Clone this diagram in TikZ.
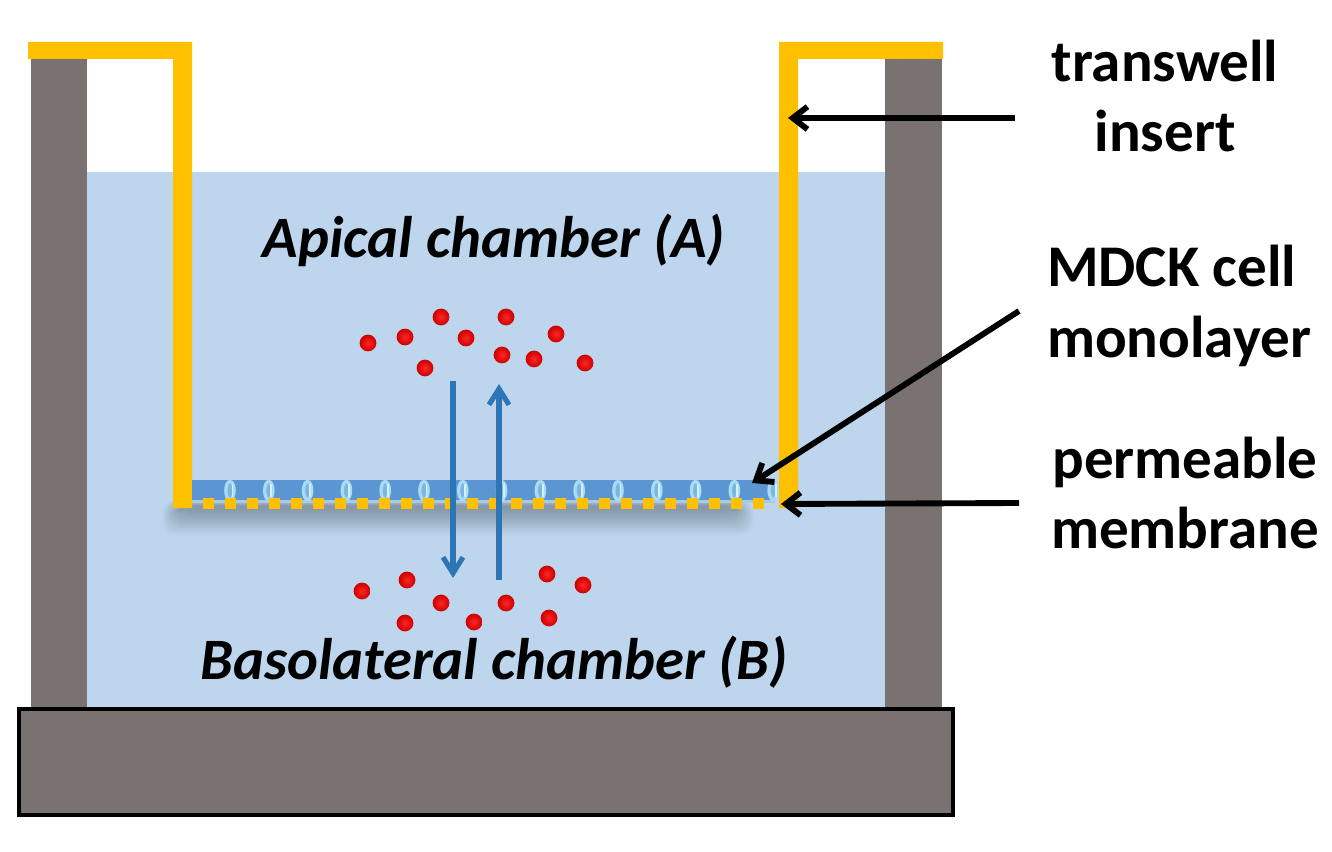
\documentclass[tikz,border=0pt]{standalone}
\usepackage{fontspec}
\setmainfont{Carlito}
\usetikzlibrary{arrows.meta}
\definecolor{wall}{HTML}{7A7270}
\definecolor{medium}{HTML}{BDD6EE}
\definecolor{insert}{HTML}{FFC000}
\definecolor{cell}{HTML}{5B96D2}
\definecolor{junction}{HTML}{A8DCF5}
\definecolor{flux}{HTML}{2E75B6}
\tikzset{
  x=0.75pt,y=-0.75pt,
  bigtext/.style={font=\fontsize{44.3}{53}\selectfont\bfseries,align=center,text=black,inner sep=0pt},
  chamber/.style={font=\fontsize{44}{52}\selectfont\bfseries\itshape,text=black,inner sep=0pt},
  pointer/.style={line width=4.4pt,draw=black,-{Straight Barb[length=11pt,width=17pt,line width=4.4pt]}},
  fluxarrow/.style={line width=3.8pt,draw=flux,-{Straight Barb[length=12pt,width=15pt,line width=3.8pt]}},
  molecule/.style={circle,minimum size=12.6pt,inner sep=0pt,draw=none,
    inner color=red!85!white,outer color=red!80!black,shading=radial},
  pore/.style={fill=insert,draw=none},
}
\newcommand{\molec}[3]{\node[molecule] (#1) at (#2,#3) {};}
\begin{document}
\begin{tikzpicture}
\useasboundingbox (0,0) rectangle (1332,852);
\fill[white] (0,0) rectangle (1332,852);

% culture medium and well walls
\fill[medium] (87,172) rectangle (885,708);
\fill[wall] (31,59) rectangle (87,708);
\fill[wall] (885,59) rectangle (942,708);
\draw[black,line width=2.6pt,fill=wall] (19,709) rectangle (953,815);

% soft shadow under the membrane
\foreach \g in {30,28,...,2}{
  \fill[black,opacity=0.02,rounded corners=10pt]
    (182-\g*0.65,506-\g*0.2) rectangle (734+\g*0.65,508+\g*0.9);
}

% insert walls
\fill[insert] (28,42) -- (192,42) -- (192,508) -- (173,508) -- (173,59) -- (28,59) -- cycle;
\fill[insert] (943,42) -- (943,59) -- (798,59) -- (798,508) -- (779,508) -- (779,42) -- cycle;

% cell monolayer with junctions
\fill[cell] (192,480) rectangle (775,500);
\fill[medium!80!cell] (192,500) rectangle (775,503);
\foreach \c in {0,...,14}{
  \pgfmathsetmacro{\xc}{230+38.8*\c}
  \draw[junction,line width=2.4pt,fill=junction!45!cell] (\xc,490.5) ellipse (4.2 and 9);
  \draw[white!55!junction,line width=1.3pt] (\xc+2.5,484) -- (\xc+2.5,497);
}

% pores of the membrane
\foreach \p in {0,...,25}{
  \pgfmathsetmacro{\xp}{203+22*\p}
  \fill[pore] (\xp,498) rectangle (\xp+11,509);
}

% transport arrows
\coordinate (downstart) at (453,381);
\coordinate (downend) at (453,578);
\coordinate (upstart) at (499,580);
\coordinate (upend) at (499,384);
\draw[fluxarrow] (downstart) -- (downend);
\draw[fluxarrow] (upstart) -- (upend);

% solute in the apical chamber
\molec{a1}{368}{343}
\molec{a2}{405}{337}
\molec{a3}{441}{317}
\molec{a4}{466}{338}
\molec{a5}{425}{368}
\molec{a6}{506}{317}
\molec{a7}{502}{355}
\molec{a8}{534}{359}
\molec{a9}{556}{334}
\molec{a10}{585}{363}

% solute in the basolateral chamber
\molec{b1}{362}{591}
\molec{b2}{407}{580}
\molec{b3}{441}{603}
\molec{b4}{405}{623}
\molec{b5}{474}{622}
\molec{b6}{506}{603}
\molec{b7}{547}{574}
\molec{b8}{549}{618}
\molec{b9}{583}{585}

% chamber names
\node[chamber] (apical) at (494,240) {Apical chamber (A)};
\node[chamber] (baso) at (494,662) {Basolateral chamber (B)};

% callouts on the right
\node[bigtext] (tw) at (1165,96) {transwell\\insert};
\node[bigtext,align=left] (mdck) at (1179,306) {MDCK cell\\monolayer};
\node[bigtext] (pm) at (1185,493) {permeable\\membrane};

\coordinate (twtail) at (1015,118);
\coordinate (twtip) at (788,118);
\coordinate (mdtail) at (1019,311);
\coordinate (mdtip) at (752,483);
\coordinate (pmtail) at (1019,503);
\coordinate (pmtip) at (781,504);
\draw[pointer] (twtail) -- (twtip);
\draw[pointer] (mdtail) -- (mdtip);
\draw[pointer] (pmtail) -- (pmtip);
\end{tikzpicture}
\end{document}
